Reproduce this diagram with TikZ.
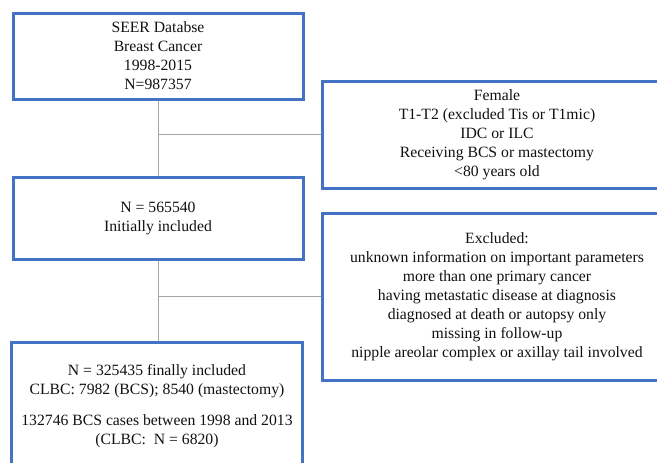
\documentclass[tikz,border=0pt]{standalone}
\usepackage{fontspec}
\setmainfont{Liberation Serif}
\usepackage{tikz}
\usetikzlibrary{positioning,calc}

\definecolor{boxblue}{HTML}{4472C4}
\definecolor{linkgray}{HTML}{A6A6A6}
\definecolor{txtgray}{HTML}{111111}

\begin{document}
\begin{tikzpicture}[
    x=1pt, y=1pt,
    box/.style={draw=boxblue, line width=3pt, align=center, inner sep=0pt,
      text=txtgray, font=\fontsize{15.7}{19}\selectfont},
    link/.style={draw=linkgray, line width=1pt}
  ]
    \useasboundingbox (0,0) rectangle (657,-463);
    \clip (0,0) rectangle (657,-463);

    \node[box, minimum width=290pt, minimum height=86pt]  (seer) at (158,-56)
      {SEER Databse\\Breast Cancer\\1998-2015\\N=987357};
    \node[box, minimum width=350pt, minimum height=107pt] (crit) at (497,-134.5)
      {Female\\T1-T2 (excluded Tis or T1mic)\\IDC or ILC\\Receiving BCS or mastectomy\\<80 years old};
    \node[box, minimum width=290pt, minimum height=82pt]  (init) at (158,-218)
      {N = 565540\\Initially included};
    \node[box, minimum width=350pt, minimum height=167pt] (excl) at (497,-296.5)
      {Excluded:\\unknown information on important parameters\\more than one primary cancer\\having metastatic disease at diagnosis\\diagnosed at death or autopsy only\\missing in follow-up\\nipple areolar complex or axillay tail involved};
    \node[box, minimum width=291pt, minimum height=128pt] (final) at (157,-406)
      {N = 325435 finally included\\CLBC: 7982 (BCS); 8540 (mastectomy)\\[12pt]132746 BCS cases between 1998 and 2013\\(CLBC:~~N = 6820)};

    \draw[link] (seer.south) -- (init.north);
    \draw[link] (seer.south |- crit.west) -- (crit.west);
    \draw[link] (init.south) -- (init.south |- final.north);
    \draw[link] (init.south |- excl.west) -- (excl.west);
  \end{tikzpicture}
\end{document}
